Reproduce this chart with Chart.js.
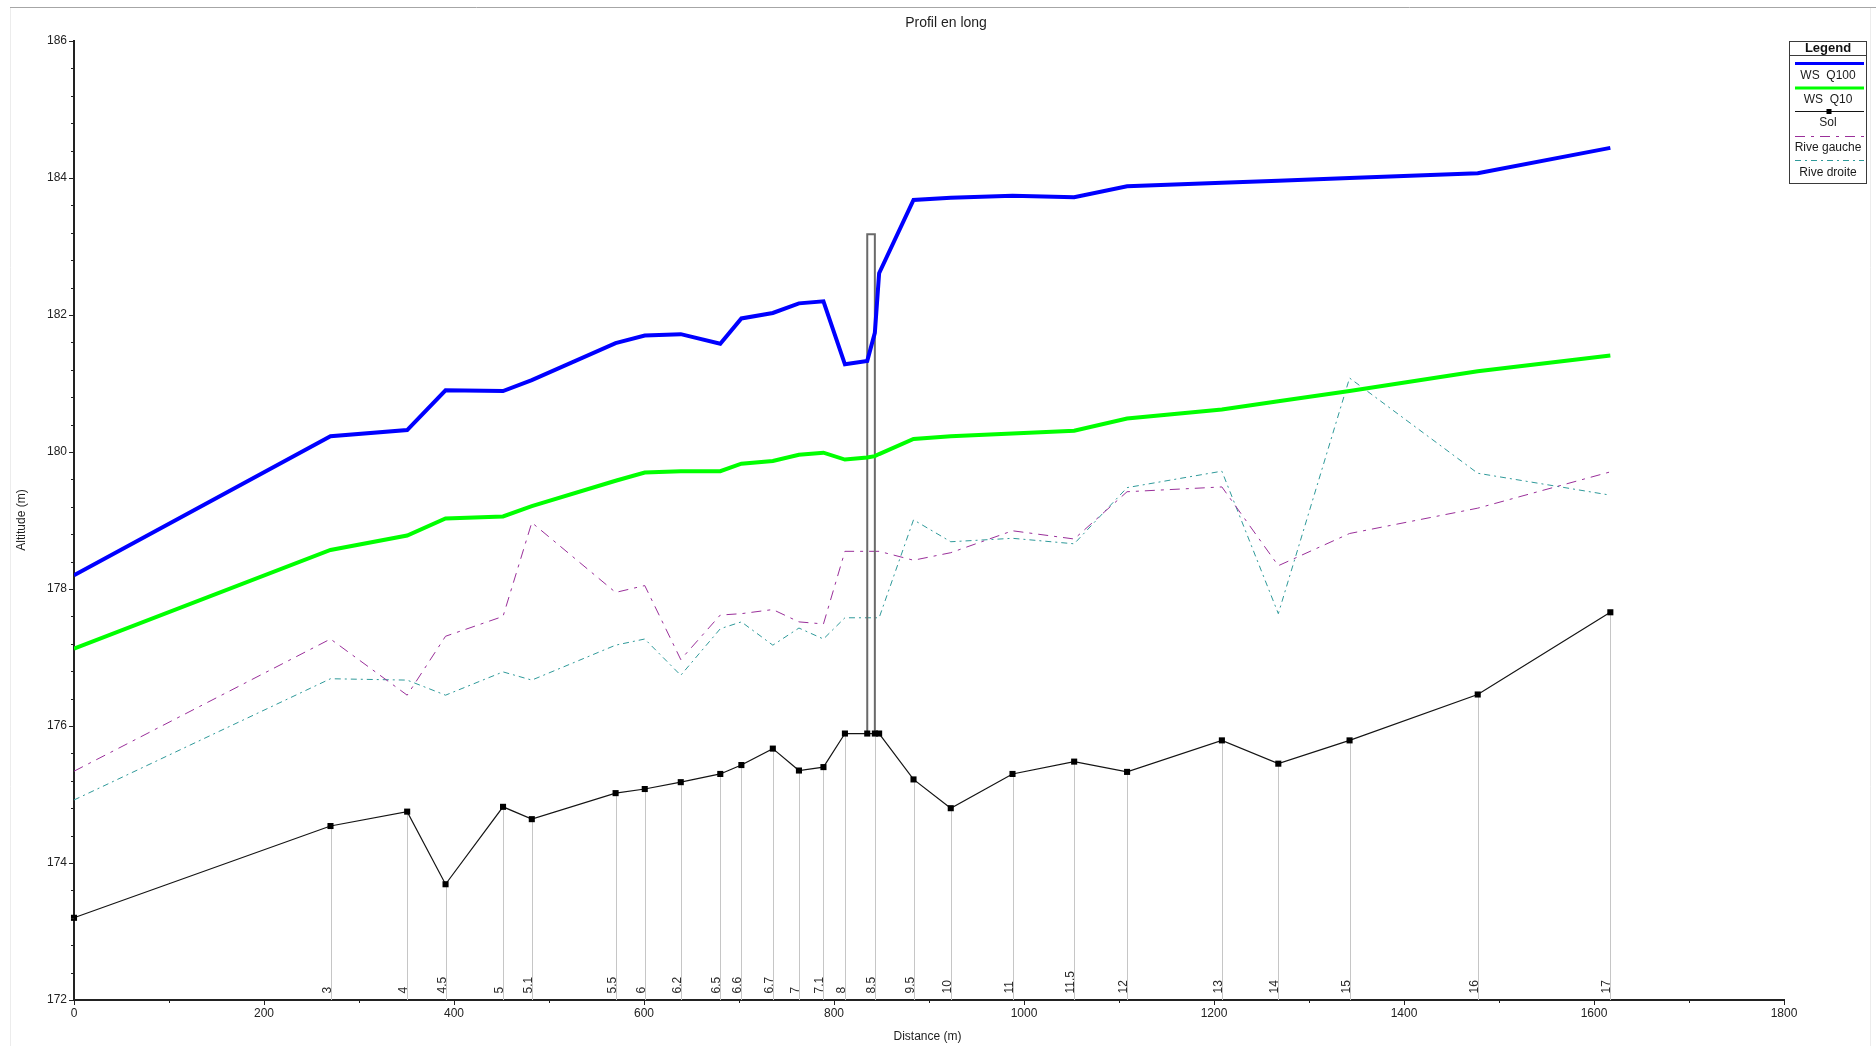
<!DOCTYPE html>
<html>
<head>
<meta charset="utf-8">
<title>Profil en long</title>
<script src="https://cdn.jsdelivr.net/npm/chart.js@4/dist/chart.umd.min.js"></script>
<style>
  html, body { margin: 0; padding: 0; background: #ffffff; }
  canvas { display: block; }
</style>
</head>
<body>
<canvas id="profil" width="1876" height="1046"></canvas>
<script>
// Distances of the cross-sections along the reach (m)
const stations = [0, 270.0, 350.7, 391.1, 451.6, 481.9, 570.1, 600.8, 638.7, 680.3, 702.5, 735.6, 763.1, 788.9, 811.5,
                  835.0, 843.0, 847.5, 883.7, 922.9, 987.9, 1052.8, 1108.5, 1208.3, 1267.7, 1342.7, 1477.6, 1617.2];
// Section names printed at the foot of each section line ('' = no label)
const sectionNames = ['', '3', '4', '4.5', '5', '5.1', '5.5', '6', '6.2', '6.5', '6.6', '6.7', '7', '7.1', '8',
                      '', '8.5', '', '9.5', '10', '11', '11.5', '12', '13', '14', '15', '16', '17'];
// Channel bed (m)
const solElev = [173.20, 174.54, 174.75, 173.69, 174.82, 174.64, 175.02, 175.08, 175.18, 175.30, 175.43, 175.67, 175.35, 175.40, 175.89,
                 175.89, 175.89, 175.89, 175.22, 174.80, 175.30, 175.48, 175.33, 175.79, 175.45, 175.79, 176.46, 177.66];
// Water surface, 100-year flow (m)
const wsQ100 = [178.20, 180.23, 180.32, 180.90, 180.89, 181.05, 181.59, 181.70, 181.72, 181.58, 181.95, 182.03, 182.17, 182.20, 181.28,
                181.33, 181.74, 182.61, 183.68, 183.71, 183.74, 183.72, 183.88, 183.93, 183.96, 184.00, 184.07, 184.44];
// Water surface, 10-year flow (m)
const wsQ10 = [177.13, 178.57, 178.78, 179.03, 179.06, 179.21, 179.58, 179.70, 179.72, 179.72, 179.83, 179.87, 179.96, 179.99, 179.89,
               179.92, 179.94, 179.97, 180.19, 180.23, 180.27, 180.31, 180.49, 180.62, 180.74, 180.89, 181.18, 181.41];
// Left bank (m)
const riveGauche = [175.34, 177.27, 176.45, 177.31, 177.60, 178.97, 177.95, 178.05, 176.97, 177.62, 177.64, 177.70, 177.52, 177.49, 178.55,
                    178.55, 178.55, 178.55, 178.42, 178.53, 178.85, 178.73, 179.42, 179.49, 178.34, 178.81, 179.18, 179.71];
// Right bank (m)
const riveDroite = [174.92, 176.69, 176.67, 176.45, 176.79, 176.67, 177.18, 177.27, 176.74, 177.42, 177.52, 177.18, 177.43, 177.27, 177.58,
                    177.58, 177.58, 177.58, 179.01, 178.69, 178.74, 178.66, 179.48, 179.72, 177.64, 181.08, 179.69, 179.37];
// Bridge deck outline (distance, elevation)
const bridgeX = [835.0, 835.0, 843.0, 843.0];
const bridgeY = [175.89, 183.18, 183.18, 175.89];
// Axis ticks
const xTickValues = [0, 200, 400, 600, 800, 1000, 1200, 1400, 1600, 1800];
const xMinorTicks = [100, 300, 500, 700, 900, 1100, 1300, 1500, 1700];
const yTickValues = [172, 174, 176, 178, 180, 182, 184, 186];
const yMinorTicks = [172.4, 172.8, 173.2, 173.6, 174.4, 174.8, 175.2, 175.6, 176.4, 176.8, 177.2, 177.6,
                     178.4, 178.8, 179.2, 179.6, 180.4, 180.8, 181.2, 181.6, 182.4, 182.8, 183.2, 183.6,
                     184.4, 184.8, 185.2, 185.6];

const FONT = '"Liberation Sans", Arial, Helvetica, sans-serif';
const AXIS = '#222222';

const pts = (ys, xs = stations) => xs.map((x, i) => ({ x: x, y: ys[i] }));

const COLORS = {
  q100: '#0000ff',
  q10: '#00ff00',
  sol: '#141414',
  bridge: '#6a6a6a',
  gauche: '#9a2f9a',
  droite: '#2f9a9a',
  section: '#c6c6c6'
};
const DASH_G = [10, 6, 3, 6];
const DASH_D = [6, 4, 2, 4];

// Frame, section lines, minor ticks, labels, titles and legend box
const profilDecor = {
  id: 'profilDecor',
  beforeDraw(chart) {
    const ctx = chart.ctx;
    ctx.save();
    ctx.fillStyle = '#ffffff';
    ctx.fillRect(0, 0, chart.width, chart.height);
    ctx.lineWidth = 1;
    ctx.strokeStyle = '#a6a6a6';
    ctx.beginPath();
    ctx.moveTo(10, 7.5); ctx.lineTo(chart.width, 7.5);
    ctx.stroke();
    ctx.strokeStyle = '#ececec';
    ctx.beginPath();
    ctx.moveTo(10.5, 8); ctx.lineTo(10.5, chart.height);
    ctx.moveTo(1870.5, 8); ctx.lineTo(1870.5, chart.height);
    ctx.stroke();
    ctx.restore();
  },
  beforeDatasetsDraw(chart) {
    const ctx = chart.ctx, xs = chart.scales.x, ys = chart.scales.y;
    const base = ys.getPixelForValue(172);
    ctx.save();
    ctx.strokeStyle = COLORS.section;
    ctx.lineWidth = 1;
    ctx.beginPath();
    stations.forEach((d, i) => {
      if (!sectionNames[i]) return;
      const px = Math.round(xs.getPixelForValue(d)) + 0.5;
      ctx.moveTo(px, ys.getPixelForValue(solElev[i]));
      ctx.lineTo(px, base);
    });
    ctx.stroke();
    ctx.restore();
  },
  afterDatasetsDraw(chart) {
    const ctx = chart.ctx, xs = chart.scales.x, ys = chart.scales.y;
    const area = chart.chartArea;
    const base = ys.getPixelForValue(172);
    ctx.save();

    // minor ticks
    ctx.strokeStyle = AXIS;
    ctx.lineWidth = 1;
    ctx.beginPath();
    yMinorTicks.forEach(v => {
      const py = Math.round(ys.getPixelForValue(v)) + 0.5;
      ctx.moveTo(area.left - 3, py); ctx.lineTo(area.left, py);
    });
    xMinorTicks.forEach(v => {
      const px = Math.round(xs.getPixelForValue(v)) + 0.5;
      ctx.moveTo(px, area.bottom); ctx.lineTo(px, area.bottom + 3);
    });
    ctx.stroke();

    // section names, vertical along their line
    ctx.fillStyle = '#2a2a2a';
    ctx.font = '12px ' + FONT;
    ctx.textAlign = 'left';
    ctx.textBaseline = 'alphabetic';
    stations.forEach((d, i) => {
      if (!sectionNames[i]) return;
      const px = Math.round(xs.getPixelForValue(d));
      ctx.save();
      ctx.translate(px - 0.5, base - 6.5);
      ctx.rotate(-Math.PI / 2);
      ctx.fillText(sectionNames[i], 0, 0);
      ctx.restore();
    });

    // titles
    ctx.fillStyle = '#1e1e1e';
    ctx.textAlign = 'center';
    ctx.textBaseline = 'middle';
    ctx.font = '14px ' + FONT;
    ctx.fillText('Profil en long', 946, 23.5);
    ctx.font = '12px ' + FONT;
    ctx.fillText('Distance (m)', 927.5, 1037);
    ctx.save();
    ctx.translate(22, 520);
    ctx.rotate(-Math.PI / 2);
    ctx.fillText('Altitude (m)', 0, 0);
    ctx.restore();

    // legend box
    const L = 1789.5, T = 41.5, W = 77, H = 142, cx = L + W / 2;
    const x0 = 1795, x1 = 1864;
    ctx.fillStyle = '#ffffff';
    ctx.fillRect(L, T, W, H);
    ctx.strokeStyle = '#3a3a3a';
    ctx.lineWidth = 1;
    ctx.strokeRect(L, T, W, H);
    ctx.beginPath(); ctx.moveTo(L, 55.5); ctx.lineTo(L + W, 55.5); ctx.stroke();
    ctx.fillStyle = '#111';
    ctx.font = 'bold 13px ' + FONT;
    ctx.fillText('Legend', cx, 48.5);

    const sample = (y, color, width, dash) => {
      ctx.save();
      ctx.strokeStyle = color; ctx.lineWidth = width; ctx.setLineDash(dash || []);
      ctx.beginPath(); ctx.moveTo(x0, y); ctx.lineTo(x1, y); ctx.stroke();
      ctx.restore();
    };
    sample(63.5, COLORS.q100, 3);
    sample(88, COLORS.q10, 3);
    sample(111.5, COLORS.sol, 1);
    ctx.fillStyle = '#000';
    ctx.fillRect(1826.5, 109, 5, 5);
    sample(136.5, COLORS.gauche, 1, DASH_G);
    sample(160.5, COLORS.droite, 1, DASH_D);

    ctx.fillStyle = '#1a1a1a';
    ctx.font = '12px ' + FONT;
    ctx.fillText('WS  Q100', cx, 75.5);
    ctx.fillText('WS  Q10', cx, 100);
    ctx.fillText('Sol', cx, 123);
    ctx.fillText('Rive gauche', cx, 148);
    ctx.fillText('Rive droite', cx, 172.5);
    ctx.restore();
  }
};

new Chart(document.getElementById('profil'), {
  type: 'line',
  data: {
    datasets: [
      { label: 'WS  Q100', data: pts(wsQ100), borderColor: COLORS.q100, borderWidth: 4, pointRadius: 0, tension: 0 },
      { label: 'WS  Q10', data: pts(wsQ10), borderColor: COLORS.q10, borderWidth: 4, pointRadius: 0, tension: 0 },
      { label: 'Sol', data: pts(solElev), borderColor: COLORS.sol, borderWidth: 1.2, tension: 0, clip: false,
        pointStyle: 'rect', pointRadius: 4.3, pointBackgroundColor: '#000', pointBorderWidth: 0 },
      { label: 'Pont', data: pts(bridgeY, bridgeX), borderColor: COLORS.bridge, borderWidth: 2, pointRadius: 0, tension: 0 },
      { label: 'Rive gauche', data: pts(riveGauche), borderColor: COLORS.gauche, borderWidth: 1, borderDash: DASH_G, pointRadius: 0, tension: 0 },
      { label: 'Rive droite', data: pts(riveDroite), borderColor: COLORS.droite, borderWidth: 1, borderDash: DASH_D, pointRadius: 0, tension: 0 }
    ]
  },
  options: {
    responsive: false,
    animation: false,
    events: [],
    layout: { padding: { top: 41, right: 92, left: 0, bottom: 0 } },
    plugins: { legend: { display: false }, title: { display: false }, tooltip: { enabled: false } },
    scales: {
      x: {
        type: 'linear', min: 0, max: 1800,
        afterFit(s) { s.height = 46; },
        afterBuildTicks(s) { s.ticks = xTickValues.map(v => ({ value: v })); },
        ticks: { font: { family: FONT, size: 12 }, color: AXIS, padding: 1, maxRotation: 0, autoSkip: false,
                 callback: v => String(v) },
        grid: { drawOnChartArea: false, tickLength: 5, tickColor: AXIS, tickWidth: 1 },
        border: { color: AXIS, width: 2 }
      },
      y: {
        type: 'linear', min: 172, max: 186,
        afterFit(s) { s.width = 74; },
        afterBuildTicks(s) { s.ticks = yTickValues.map(v => ({ value: v })); },
        ticks: { font: { family: FONT, size: 12 }, color: AXIS, padding: 2, autoSkip: false,
                 callback: v => String(v) },
        grid: { drawOnChartArea: false, tickLength: 5, tickColor: AXIS, tickWidth: 1 },
        border: { color: AXIS, width: 2 }
      }
    }
  },
  plugins: [profilDecor]
});
</script>
</body>
</html>
